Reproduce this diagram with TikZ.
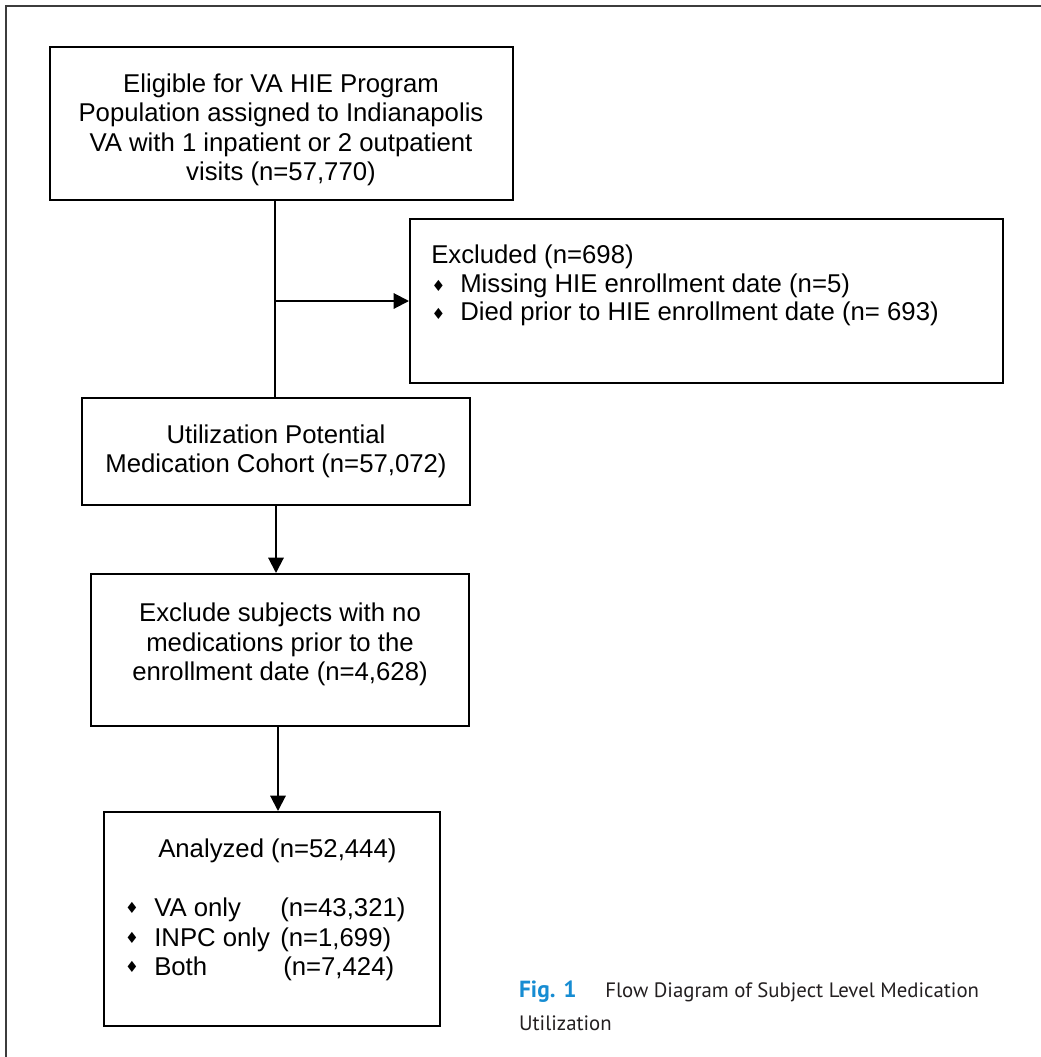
\documentclass[tikz,border=0pt]{standalone}
\usepackage{fontspec}
\setmainfont{Liberation Sans}
\newfontfamily\capfont{PT Sans}
\newfontfamily\symfont{DejaVu Sans}
\usetikzlibrary{arrows.meta}
\definecolor{figblue}{RGB}{22,140,210}
\definecolor{framegray}{RGB}{60,60,60}
\definecolor{captext}{RGB}{35,31,32}
\begin{document}
\begin{tikzpicture}[x=0.75pt,y=-0.75pt,
  box/.style={draw, line width=1.5pt, inner sep=0pt},
  ln/.style={anchor=base, inner sep=0pt, font=\fontsize{19.3}{22}\selectfont},
  lnl/.style={ln, anchor=base west},
  bul/.style={inner sep=0pt, font=\symfont\fontsize{11.5}{11.5}\selectfont},
  conn/.style={line width=1.5pt},
  arr/.style={conn, -{Triangle[length=11.5pt,width=11.5pt]}},
  captxt/.style={inner sep=0pt, text=captext, font=\capfont\fontsize{15.6}{18}\selectfont},
]
\useasboundingbox (0,0) rectangle (1041,1057);
\fill[white] (0,0) rectangle (1041,1057);
\draw[framegray, line width=1.5pt] (5.5,1057) -- (5.5,6) -- (1041,6);

% boxes
\node[box, minimum width=347.25pt, minimum height=114.75pt] (b1) at (281.5,123.5) {};
\node[box, minimum width=444.75pt, minimum height=123pt] (b2) at (706.5,301) {};
\node[box, minimum width=291pt, minimum height=80.25pt] (b3) at (276,451.5) {};
\node[box, minimum width=283.5pt, minimum height=114pt] (b4) at (280,650) {};
\node[box, minimum width=252pt, minimum height=160.5pt] (b5) at (272,919) {};

% box 1 text
\node[ln] (t1a) at (281,92.5) {Eligible for VA HIE Program};
\node[ln] (t1b) at (281,121.8) {Population assigned to Indianapolis};
\node[ln] (t1c) at (281,151.1) {VA with 1 inpatient or 2 outpatient};
\node[ln] (t1d) at (281,180.4) {visits (n=57,770)};

% box 2 text
\node[lnl] (t2a) at (431,263.5) {Excluded (n=698)};
\node[bul] (d2b) at (438.5,285.5) {♦};
\node[lnl] (t2b) at (460,292) {Missing HIE enrollment date (n=5)};
\node[bul] (d2c) at (438.5,314) {♦};
\node[lnl] (t2c) at (460,320.5) {Died prior to HIE enrollment date (n= 693)};

% box 3 text
\node[ln] (t3a) at (276,443) {Utilization Potential};
\node[ln] (t3b) at (276,472.5) {Medication Cohort (n=57,072)};

% box 4 text
\node[ln] (t4a) at (280,621.5) {Exclude subjects with no};
\node[ln] (t4b) at (280,651) {medications prior to the};
\node[ln] (t4c) at (280,680.5) {enrollment date (n=4,628)};

% box 5 text
\node[lnl] (t5a) at (158,857.5) {Analyzed (n=52,444)};
\node[bul] (d5b) at (132,908) {♦};
\node[lnl] (t5b) at (154,916.5) {VA only};
\node[lnl] (n5b) at (280,916.5) {(n=43,321)};
\node[bul] (d5c) at (132,938) {♦};
\node[lnl] (t5c) at (154,946.5) {INPC only};
\node[lnl] (n5c) at (280,946.5) {(n=1,699)};
\node[bul] (d5d) at (132,967) {♦};
\node[lnl] (t5d) at (154,975.5) {Both};
\node[lnl] (n5d) at (283,975.5) {(n=7,424)};

% connectors
\coordinate (j) at (275,301);
\coordinate (k) at (276,0);
\coordinate (m) at (278,0);
\draw[conn] (b1.south -| j) -- (b3.north -| j);
\draw[arr] (j) -- (j -| b2.west);
\draw[arr] (b3.south -| k) -- (b4.north -| k);
\draw[arr] (b4.south -| m) -- (b5.north -| m);

% caption
\node[captxt, anchor=base west] (c1) at (605,997) {Flow Diagram of Subject Level Medication};
\node[captxt, anchor=base east] (c2) at (612,1030) {Utilization};
\node[captxt, anchor=base west, text=figblue, font=\capfont\bfseries\fontsize{17.5}{18}\selectfont] (fig) at (c2.base west |- c1.base) {Fig. 1};
\end{tikzpicture}
\end{document}
